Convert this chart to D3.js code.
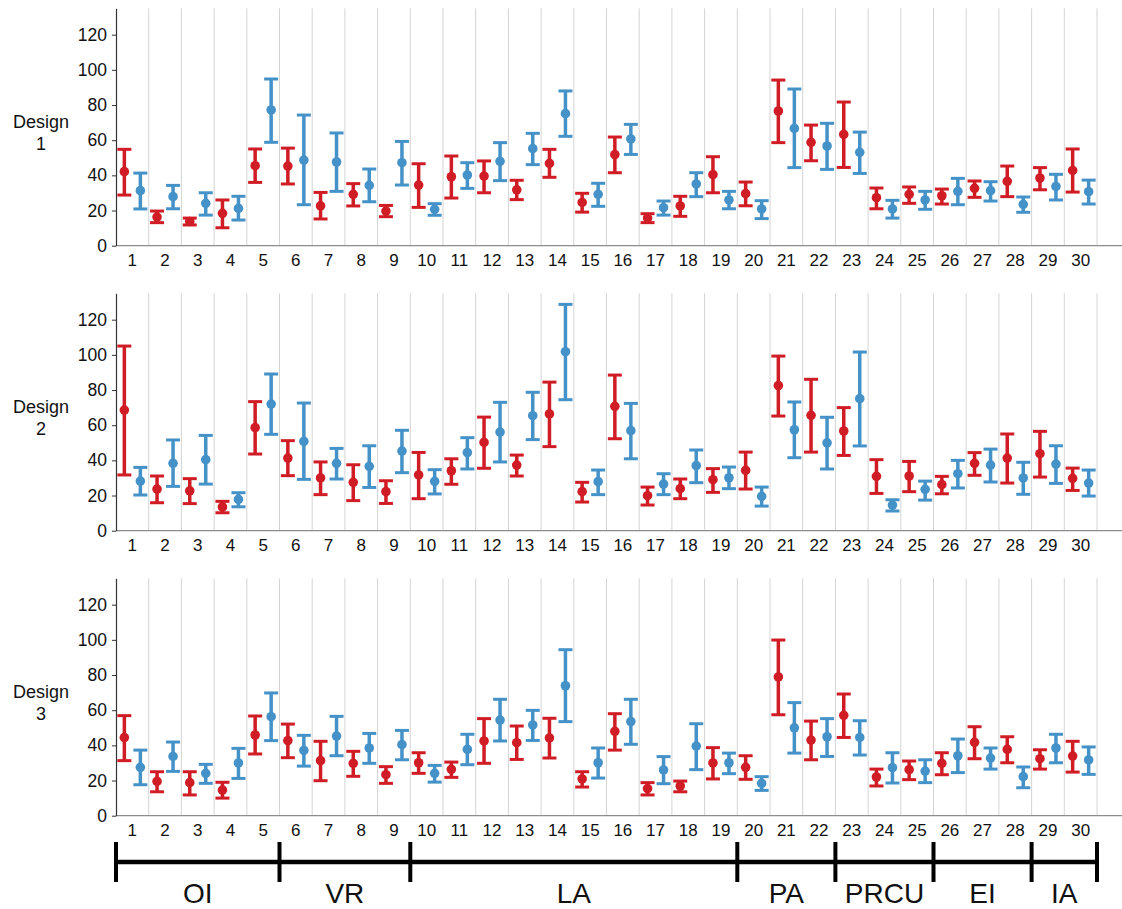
<!DOCTYPE html>
<html>
<head>
<meta charset="utf-8">
<script src="https://cdn.jsdelivr.net/npm/d3@7"></script>
<style>
  body { margin: 0; background: #fff; }
  svg { font-family: "Liberation Sans", Arial, sans-serif; }
</style>
</head>
<body>
<div id="chart"></div>
<script>
"use strict";

// categories and grouping
var categories = d3.range(1, 31).map(String);
var groups = ["OI", "VR", "LA", "PA", "PRCU", "EI", "IA"];
var groupSizes = [5, 4, 10, 3, 3, 3, 2];
var designs = ["1", "2", "3"];
var yTicks = [0, 20, 40, 60, 80, 100, 120];

// Design 1
var d1RedMean = [42.1,16.3,13.8,18.4,45.5,45.3,22.7,29.2,19.7,34.5,39.2,39.6,31.8,46.8,24.6,51.8,15.7,22.6,40.4,29.6,76.6,58.8,63.3,27.3,29.2,28.4,32.6,36.6,38.5,42.8];
var d1RedLow  = [28.8,13.1,11.8,10.2,36.0,35.1,15.2,22.6,16.5,21.8,27.1,30.1,26.2,38.9,19.1,41.5,13.1,16.7,30.1,22.7,58.6,48.3,44.5,21.0,24.1,23.7,27.5,27.9,31.8,30.5];
var d1RedHigh = [54.8,19.7,15.7,26.0,55.0,55.5,30.3,35.3,22.9,46.6,51.0,48.2,37.2,54.8,29.8,61.8,18.2,28.1,50.6,36.2,94.2,68.6,81.7,32.8,33.4,32.2,36.8,45.3,44.4,55.0];
var d1BlueMean = [31.3,27.9,24.1,21.2,77.2,48.7,47.6,34.3,47.2,20.7,40.2,48.0,55.2,75.1,29.2,60.7,21.6,35.1,26.0,20.9,66.7,56.7,53.1,20.9,26.0,30.9,31.3,23.5,33.7,30.7];
var d1BlueLow  = [20.9,21.0,17.4,14.6,58.8,23.3,30.9,25.0,34.5,17.3,32.6,37.0,46.1,62.2,22.4,51.9,17.4,27.9,21.0,15.4,44.4,43.4,41.1,15.7,20.7,23.3,25.4,19.0,26.0,23.7];
var d1BlueHigh = [41.3,34.3,30.1,28.1,94.8,74.3,64.1,43.6,59.3,23.9,47.2,58.6,63.9,88.0,35.5,69.0,25.4,41.5,30.9,25.6,89.1,69.6,64.6,25.8,30.9,38.3,36.4,27.7,40.6,37.3];

// Design 2
var d2RedMean = [68.6,23.7,22.7,13.6,58.6,41.3,30.0,27.5,22.2,31.7,34.1,50.2,37.3,66.4,22.2,70.7,19.9,23.9,29.0,34.3,82.5,65.6,56.7,30.9,31.1,26.2,38.3,41.3,43.8,29.8];
var d2RedLow  = [31.7,15.9,15.4,10.2,43.6,31.3,20.5,17.1,15.5,18.2,26.4,35.5,31.1,47.8,16.3,52.3,14.6,18.2,21.8,23.7,65.2,44.7,42.8,21.2,22.2,21.0,31.5,27.1,30.5,22.9];
var d2RedHigh = [105.0,31.1,29.6,16.7,73.4,51.2,39.1,37.5,28.4,44.5,40.9,64.6,43.0,84.5,27.5,88.5,24.8,29.4,35.3,44.7,99.3,86.1,70.0,40.4,39.4,30.9,44.4,55.0,56.5,35.6];
var d2BlueMean = [28.2,38.3,40.4,17.8,72.0,50.8,38.3,36.6,45.3,28.1,44.4,56.1,65.4,101.8,27.9,56.9,26.5,37.0,30.1,19.5,57.4,50.0,75.1,14.6,23.5,32.4,37.3,30.0,37.9,27.1];
var d2BlueLow  = [20.3,25.2,26.5,13.6,54.8,29.2,29.4,24.6,33.0,20.9,35.1,39.1,51.8,74.5,20.5,40.9,20.5,27.3,23.9,14.0,41.5,35.1,48.2,11.2,17.4,24.3,27.7,20.7,26.9,19.7];
var d2BlueHigh = [36.0,51.6,54.2,21.6,89.1,72.6,46.8,48.3,57.1,34.7,52.9,73.0,78.7,128.7,34.5,72.4,32.4,45.9,36.2,24.8,73.2,64.5,101.6,17.6,28.2,40.0,46.4,38.9,48.3,34.5];

// Design 3
var d3RedMean = [44.4,19.5,18.8,14.6,45.9,42.7,31.3,29.8,23.3,30.1,26.4,42.5,41.5,44.2,20.9,48.0,15.4,16.9,30.0,27.5,78.9,43.0,57.1,22.0,26.2,29.8,41.7,37.7,32.4,33.9];
var d3RedLow  = [31.3,13.6,11.8,10.0,35.1,33.0,19.9,22.4,18.4,24.1,21.8,29.8,32.0,32.8,16.3,37.3,11.8,13.6,20.9,20.7,57.4,31.8,44.5,16.9,20.5,23.3,32.4,30.1,26.5,24.8];
var d3RedHigh = [56.9,25.0,25.0,19.0,56.7,52.1,42.3,36.6,27.9,35.8,30.5,55.2,51.0,55.4,25.0,58.0,18.8,19.7,38.7,34.1,99.9,53.8,69.2,26.5,31.1,35.8,50.6,44.9,37.5,42.3];
var d3BlueMean = [27.5,33.7,24.1,30.0,56.3,37.2,45.3,38.5,40.4,24.1,37.7,54.4,51.6,73.9,30.1,53.5,26.0,39.6,30.1,18.4,50.0,44.9,44.5,27.3,25.4,34.1,32.8,22.2,38.5,31.7];
var d3BlueLow  = [17.6,25.2,18.4,21.2,42.7,28.2,34.1,29.8,31.8,19.1,29.0,42.5,42.8,53.5,21.4,40.6,18.2,26.2,23.9,14.4,35.6,33.7,34.5,18.6,18.8,24.5,26.5,15.9,30.1,23.5];
var d3BlueHigh = [37.3,41.9,29.2,38.3,69.8,45.7,56.5,46.8,48.5,28.6,46.3,66.2,59.9,94.4,38.5,66.2,33.6,52.3,35.6,22.2,64.3,55.2,54.0,35.8,31.8,43.6,38.5,27.7,46.3,39.1];

var panels = [
  [[d1RedMean, d1RedLow, d1RedHigh], [d1BlueMean, d1BlueLow, d1BlueHigh]],
  [[d2RedMean, d2RedLow, d2RedHigh], [d2BlueMean, d2BlueLow, d2BlueHigh]],
  [[d3RedMean, d3RedLow, d3RedHigh], [d3BlueMean, d3BlueLow, d3BlueHigh]]
];

var colors = ["#d01c24", "#4592c8"];
var w = 1122, h = 909;
var left = 116, right = 1097;
var panelTop = [8.3, 293.3, 578.3], panelH = 237.4;

var svg = d3.select("#chart").append("svg").attr("width", w).attr("height", h);

var x = d3.scaleBand().domain(categories).range([left, right]).padding(0);
var off = d3.scalePoint().domain([0, 1]).range([-8, 8]);
var y = d3.scaleLinear().domain([0, 135]);

panels.forEach(function (series, p) {
  var top = panelTop[p], bottom = top + panelH;
  y.range([bottom, top]);
  var g = svg.append("g");

  // vertical gridlines at band edges
  g.selectAll("line.grid")
    .data(categories)
    .enter().append("line")
    .attr("class", "grid")
    .attr("x1", function (d) { return x(d) + x.bandwidth(); })
    .attr("x2", function (d) { return x(d) + x.bandwidth(); })
    .attr("y1", top).attr("y2", bottom)
    .attr("stroke", "#d4d4d4").attr("stroke-width", 1);

  // x axis baseline
  g.append("line")
    .attr("x1", left).attr("x2", w)
    .attr("y1", bottom).attr("y2", bottom)
    .attr("stroke", "#8c8c8c").attr("stroke-width", 1.2);

  var xAxis = g.append("g")
    .attr("transform", "translate(0," + bottom + ")")
    .call(d3.axisBottom(x).tickSize(0).tickPadding(8));
  xAxis.select(".domain").remove();
  xAxis.selectAll("text").attr("font-size", 17).attr("fill", "#111")
    .attr("font-family", "'Liberation Sans', Arial, sans-serif");

  var yAxis = g.append("g")
    .attr("transform", "translate(" + left + ",0)")
    .call(d3.axisLeft(y).tickValues(yTicks).tickSize(4).tickSizeOuter(0).tickPadding(5));
  yAxis.select(".domain").attr("stroke", "#333").attr("stroke-width", 1.2);
  yAxis.selectAll(".tick line").attr("stroke", "#333");
  yAxis.selectAll("text").attr("font-size", 17.5).attr("fill", "#111")
    .attr("font-family", "'Liberation Sans', Arial, sans-serif");

  // row label
  var lab = g.append("text")
    .attr("text-anchor", "middle")
    .attr("font-size", 18)
    .attr("fill", "#111");
  lab.append("tspan").attr("x", 41).attr("y", top + 120).text("Design");
  lab.append("tspan").attr("x", 41).attr("y", top + 142).text(designs[p]);

  // error bars
  series.forEach(function (s, si) {
    var mean = s[0], lo = s[1], hi = s[2];
    var cx = function (d, i) { return x(categories[i]) + x.bandwidth() / 2 + off(si); };
    var sg = g.append("g").attr("stroke", colors[si]).attr("fill", colors[si]);
    sg.selectAll("line.bar").data(mean).enter().append("line")
      .attr("x1", cx).attr("x2", cx)
      .attr("y1", function (d, i) { return y(lo[i]); })
      .attr("y2", function (d, i) { return y(hi[i]); })
      .attr("stroke-width", 3.5);
    [lo, hi].forEach(function (arr) {
      sg.selectAll(null).data(arr).enter().append("line")
        .attr("x1", function (d, i) { return cx(d, i) - 7; })
        .attr("x2", function (d, i) { return cx(d, i) + 7; })
        .attr("y1", function (d) { return y(d); })
        .attr("y2", function (d) { return y(d); })
        .attr("stroke-width", 3);
    });
    sg.selectAll("circle").data(mean).enter().append("circle")
      .attr("cx", cx)
      .attr("cy", function (d) { return y(d); })
      .attr("r", 4.8)
      .attr("stroke", "none");
  });
});

// group bracket at bottom
var bounds = [0];
groupSizes.forEach(function (n, i) { bounds.push(bounds[i] + n); });
var edge = function (k) { return k < categories.length ? x(categories[k]) : x(categories[k - 1]) + x.bandwidth(); };
var bracketY = 862;
var b = svg.append("g");
b.append("line")
  .attr("x1", edge(0)).attr("x2", edge(30))
  .attr("y1", bracketY).attr("y2", bracketY)
  .attr("stroke", "#000").attr("stroke-width", 4.5);
b.selectAll("line.tick").data(bounds).enter().append("line")
  .attr("x1", function (d) { return edge(d); })
  .attr("x2", function (d) { return edge(d); })
  .attr("y1", bracketY - 20).attr("y2", bracketY + 20)
  .attr("stroke", "#000").attr("stroke-width", 4);
b.selectAll("text").data(groups).enter().append("text")
  .attr("x", function (d, i) { return (edge(bounds[i]) + edge(bounds[i + 1])) / 2; })
  .attr("y", 903)
  .attr("text-anchor", "middle")
  .attr("font-size", 28)
  .attr("fill", "#111")
  .text(function (d) { return d; });
</script>
</body>
</html>
